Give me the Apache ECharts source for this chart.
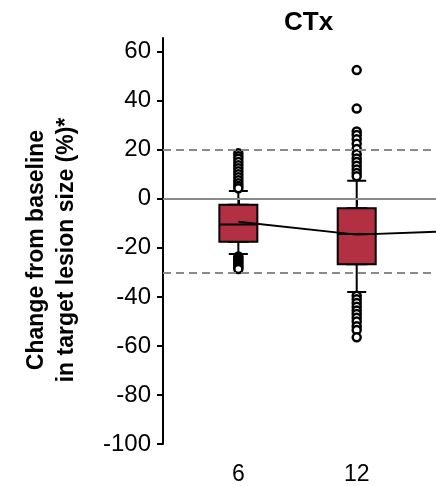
<!DOCTYPE html>
<html>
<head>
<meta charset="utf-8">
<script src="https://cdn.jsdelivr.net/npm/echarts@6/dist/echarts.min.js"></script>
<style>html,body{margin:0;padding:0;background:#fff}#c{width:436px;height:486px}</style>
</head>
<body>
<div id="c"></div>
<script>
// ---- data ----
var months = [6, 12];
var whiskerMin = [-22.5, -38.0];
var q1 = [-17.5, -26.7];
var median = [-10.5, -14.3];
var q3 = [-2.4, -3.8];
var whiskerMax = [3.2, 7.4];
var outliers6 = [18.6, 17.4, 16.3, 15.0, 13.7, 12.5, 11.2, 10.0, 8.8, 7.6, 6.4, 5.2, 4.3,
                 -23.5, -24.3, -25.0, -25.8, -26.5, -27.2, -28.0, -28.6];
var outliers12 = [52.5, 36.8, 27.5, 26.0, 24.3, 22.5, 20.3, 18.2, 16.5, 15.0, 13.5, 12.0, 10.5, 9.2,
                  -39.5, -41.0, -42.5, -44.0, -45.5, -47.0, -48.5, -50.0, -52.0, -53.5, -56.5];
var lineMonths = [6, 12, 18];
var lineValues = [-9.3, -14.6, -12.9];
var yTicks = [-100, -80, -60, -40, -20, 0, 20, 40, 60];
var xTicks = [6, 12];
var refSolid = [0];
var refDashed = [20, -30];
var titleText = 'CTx';
var yName = 'Change from baseline\nin target lesion size (%)*';

// ---- build ----
var capData = months.map(function (m, i) { return [m, whiskerMin[i], q1[i], median[i], q3[i], whiskerMax[i]]; });
var boxData = months.map(function (m, i) { return [m, q1[i], q1[i], median[i], q3[i], q3[i]]; });
var outData = [];
outliers6.forEach(function (v) { outData.push([6, v]); });
outliers12.forEach(function (v) { outData.push([12, v]); });
var lineData = lineMonths.map(function (m, i) { return [m, lineValues[i]]; });

var font = 'Liberation Sans, Arial, Helvetica, sans-serif';
var xMin = 2.18, xMax = 16.02;
var chart = echarts.init(document.getElementById('c'), null, { renderer: 'canvas' });
chart.setOption({
  animation: false,
  backgroundColor: '#fff',
  title: {
    text: titleText, left: 279, top: 5,
    textStyle: { fontFamily: font, fontSize: 26, fontWeight: 'bold', color: '#000' }
  },
  grid: { left: 163, right: 0, top: 38, bottom: 39, containLabel: false },
  xAxis: [{
    type: 'value', min: xMin, max: xMax,
    splitLine: { show: false },
    axisLine: { show: true, lineStyle: { color: '#000', width: 2 } },
    axisTick: { show: true, customValues: xTicks, length: 7, lineStyle: { color: '#000', width: 2 } },
    axisLabel: { customValues: xTicks, margin: 19, fontFamily: font, fontSize: 23, color: '#000' }
  }, {
    type: 'value', min: xMin, max: xMax, show: false, position: 'bottom'
  }],
  yAxis: {
    type: 'value', min: -100, max: 65.6,
    name: yName, nameLocation: 'middle', nameRotate: 90, nameGap: 81,
    nameTextStyle: { fontFamily: font, fontSize: 23, fontWeight: 'bold', color: '#000', lineHeight: 30, align: 'center', padding: [0, 18, 0, 0] },
    splitLine: { show: false },
    axisLine: { show: true, lineStyle: { color: '#000', width: 2 } },
    axisTick: { show: true, customValues: yTicks, length: 6, lineStyle: { color: '#000', width: 2 } },
    axisLabel: { customValues: yTicks, margin: 12, fontFamily: font, fontSize: 24, color: '#000' }
  },
  series: [
    {
      type: 'line', data: [], z: 1, silent: true,
      markLine: {
        silent: true, symbol: ['none', 'none'], label: { show: false },
        data: refSolid.map(function (v) { return { yAxis: v, lineStyle: { type: 'solid', color: '#8a8a8a', width: 2 } }; })
          .concat(refDashed.map(function (v) { return { yAxis: v, lineStyle: { type: [8, 5], color: '#8a8a8a', width: 2 } }; }))
      }
    },
    {
      type: 'boxplot', data: capData, boxWidth: [19, 19], z: 2, silent: true, xAxisIndex: 1,
      itemStyle: { color: '#fff', borderColor: '#000', borderWidth: 2 }
    },
    {
      type: 'scatter', data: outData, symbol: 'circle', symbolSize: 8, z: 3, silent: true,
      itemStyle: { color: '#fff', borderColor: '#000', borderWidth: 2.5, opacity: 1 }
    },
    {
      type: 'boxplot', data: boxData, boxWidth: [38, 38], z: 4, silent: true, xAxisIndex: 0,
      itemStyle: { color: '#B23042', borderColor: '#000', borderWidth: 2 }
    },
    {
      type: 'line', data: lineData, z: 5, silent: true, showSymbol: false, symbol: 'none',
      lineStyle: { color: '#000', width: 2 }
    }
  ]
});
</script>
</body>
</html>
